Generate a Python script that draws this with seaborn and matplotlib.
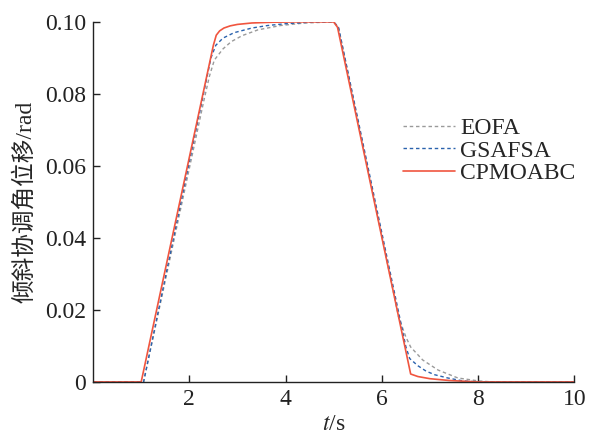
import numpy as np
import pandas as pd
import matplotlib
matplotlib.use("Agg")
import matplotlib.pyplot as plt
import seaborn as sns

# time / displacement
t_eofa = [0, 1.05, 2.3, 2.42, 2.52, 2.7, 2.87, 3.1, 3.43, 3.9, 4.4, 5.0, 5.1,
          6.35, 6.5, 6.6, 6.85, 7.17, 7.58, 8.0, 8.3, 10]
y_eofa = [0, 0, 0.078, 0.085, 0.0894, 0.0925, 0.0945, 0.0962, 0.0978, 0.099, 0.0997, 0.1, 0.0985,
          0.018, 0.0125, 0.0097, 0.0061, 0.0033, 0.0011, 0.0003, 0, 0]

t_gsafsa = [0, 1.05, 2.45, 2.55, 2.7, 2.93, 3.3, 3.63, 4.0, 4.5, 5.0, 5.1,
            6.5, 6.58, 6.75, 6.92, 7.1, 7.37, 7.68, 8.0, 10]
y_gsafsa = [0, 0, 0.09, 0.0935, 0.0955, 0.097, 0.0983, 0.099, 0.0995, 0.0999, 0.1, 0.0985,
            0.0098, 0.0065, 0.0045, 0.003, 0.002, 0.0011, 0.0003, 0, 0]

t_cpmoabc = [0, 1.0, 2.5, 2.56, 2.63, 2.72, 2.85, 3.0, 3.3, 3.7, 4.2, 5.0, 5.08,
             6.6, 6.75, 7.0, 7.4, 8.0, 10]
y_cpmoabc = [0, 0, 0.0935, 0.0963, 0.0975, 0.0983, 0.0989, 0.0993, 0.0997, 0.0999, 0.1, 0.1, 0.0985,
             0.0022, 0.0015, 0.0009, 0.0004, 0.0, 0]

sns.set_style("ticks")
plt.rcParams['font.family'] = ['Liberation Serif', 'Noto Sans CJK SC']
plt.rcParams['mathtext.fontset'] = 'stix'

fig = plt.figure(figsize=(5.89, 4.38), dpi=100)
ax = fig.add_axes([0.158, 0.128, 0.817, 0.822])

sns.lineplot(x=t_eofa, y=y_eofa, ax=ax, sort=False, color="#9a9a9a", lw=1.0,
             linestyle=(0, (2.5, 2)), label="EOFA")
sns.lineplot(x=t_gsafsa, y=y_gsafsa, ax=ax, sort=False, color="#2a62ad", lw=1.0,
             linestyle=(0, (2.5, 2)), label="GSAFSA")
sns.lineplot(x=t_cpmoabc, y=y_cpmoabc, ax=ax, sort=False, color="#f0553f", lw=1.2,
             label="CPMOABC")

ax.set_xlim(0, 10)
ax.set_ylim(0, 0.1)
ax.set_xticks([2, 4, 6, 8, 10])
ax.set_yticks([0, 0.02, 0.04, 0.06, 0.08, 0.10])
ax.set_yticklabels(["0", "0.02", "0.04", "0.06", "0.08", "0.10"])
ax.tick_params(direction="in", length=5, width=1, labelsize=17, colors="#222222", pad=5)
for s in ["left", "bottom"]:
    ax.spines[s].set_linewidth(1.0)
    ax.spines[s].set_color("#222222")
sns.despine(ax=ax)

ax.set_xlabel("$t$/s", fontsize=17, labelpad=3)
ax.set_ylabel("倾斜协调角位移/rad", fontsize=17, labelpad=6)

ax.legend(loc="upper left", bbox_to_anchor=(0.645, 0.735), frameon=False, fontsize=17,
          handlelength=2.2, handletextpad=0.2, labelspacing=0.05,
          borderaxespad=0, borderpad=0)

fig.savefig("out.png", dpi=100)
